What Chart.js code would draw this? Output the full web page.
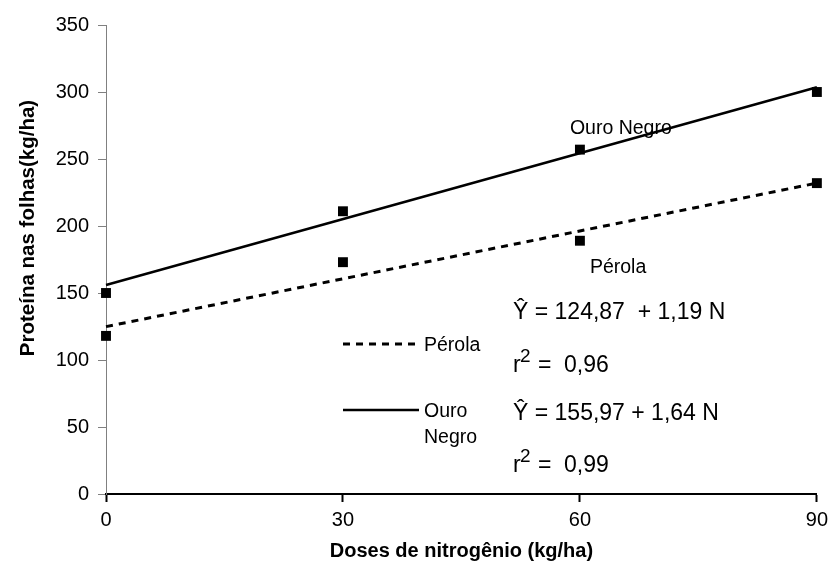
<!DOCTYPE html>
<html>
<head>
<meta charset="utf-8">
<script src="https://cdn.jsdelivr.net/npm/chart.js@4.4.1/dist/chart.umd.min.js"></script>
<style>
  body { margin: 0; background: #fff; }
</style>
</head>
<body>
<canvas id="myChart" width="834" height="574"></canvas>
<script>
// doses de N (kg/ha) e proteína nas folhas (kg/ha)
var doses = [0, 30, 60, 90];
var ouroNegro = [150, 211, 257, 300];
var perola = [118, 173, 189, 232];

var fitDoses = [0, 90];
var ouroNegroFit = [156, 303.6];
var perolaFit = [124.9, 232];

var xTicks = [0, 30, 60, 90];
var yTicks = [0, 50, 100, 150, 200, 250, 300, 350];

var FONT = "'Liberation Sans', Arial, sans-serif";

function pts(xs, ys) {
    return xs.map(function (x, i) { return { x: x, y: ys[i] }; });
}

var textos = {
    id: 'textos',
    afterDraw: function (chart) {
        var ctx = chart.ctx;
        var xs = chart.scales.x, ys = chart.scales.y;
        ctx.save();
        ctx.fillStyle = '#000';
        ctx.textBaseline = 'alphabetic';
        ctx.textAlign = 'left';

        // rótulos das séries junto aos pontos
        ctx.font = '19.5px ' + FONT;
        ctx.fillText('Ouro Negro', xs.getPixelForValue(doses[2]) - 10, ys.getPixelForValue(ouroNegro[2]) - 16);
        ctx.fillText('Pérola', xs.getPixelForValue(doses[2]) + 10, ys.getPixelForValue(perola[2]) + 32);

        // legenda
        ctx.strokeStyle = '#000';
        ctx.lineWidth = 3;
        ctx.setLineDash([7, 6]);
        ctx.beginPath(); ctx.moveTo(343, 344); ctx.lineTo(419, 344); ctx.stroke();
        ctx.setLineDash([]);
        ctx.lineWidth = 2.5;
        ctx.beginPath(); ctx.moveTo(343, 410); ctx.lineTo(419, 410); ctx.stroke();
        ctx.fillText('Pérola', 424, 351);
        ctx.fillText('Ouro', 424, 417);
        ctx.fillText('Negro', 424, 443);

        // equações
        ctx.font = '23px ' + FONT;
        ctx.fillText('Ŷ = 124,87  + 1,19 N', 513, 319);
        ctx.fillText('Ŷ = 155,97 + 1,64 N', 513, 420);
        [[372, '0,96'], [472, '0,99']].forEach(function (r) {
            ctx.font = '23px ' + FONT;
            ctx.fillText('r', 513, r[0]);
            ctx.fillText('=', 538, r[0]);
            ctx.fillText(r[1], 564, r[0]);
            ctx.font = '19px ' + FONT;
            ctx.fillText('2', 520, r[0] - 10);
        });

        // títulos dos eixos
        ctx.font = 'bold 20px ' + FONT;
        ctx.textAlign = 'center';
        ctx.textBaseline = 'middle';
        ctx.fillText('Doses de nitrogênio (kg/ha)', (chart.chartArea.left + chart.chartArea.right) / 2, 551);
        ctx.font = 'bold 20.5px ' + FONT;
        ctx.translate(28, 228);
        ctx.rotate(-Math.PI / 2);
        ctx.fillText('Proteína nas folhas(kg/ha)', 0, 0);
        ctx.restore();
    }
};

var myChart = new Chart(document.getElementById('myChart'), {
    type: 'scatter',
    data: {
        datasets: [{
            label: 'Ouro Negro',
            data: pts(doses, ouroNegro),
            pointStyle: 'rect',
            pointRadius: 7,
            backgroundColor: '#000',
            borderWidth: 0,
            clip: false
        }, {
            label: 'Pérola',
            data: pts(doses, perola),
            pointStyle: 'rect',
            pointRadius: 7,
            backgroundColor: '#000',
            borderWidth: 0,
            clip: false
        }, {
            label: 'Ouro Negro (ajuste)',
            data: pts(fitDoses, ouroNegroFit),
            showLine: true,
            pointRadius: 0,
            borderColor: '#000',
            borderWidth: 2.5,
            clip: false
        }, {
            label: 'Pérola (ajuste)',
            data: pts(fitDoses, perolaFit),
            showLine: true,
            pointRadius: 0,
            borderColor: '#000',
            borderWidth: 3,
            borderDash: [7, 6],
            clip: false
        }]
    },
    options: {
        responsive: false,
        animation: false,
        layout: { padding: { top: 25, right: 14, left: 0, bottom: 0 } },
        plugins: { legend: { display: false }, tooltip: { enabled: false } },
        scales: {
            x: {
                type: 'linear',
                min: 0,
                max: 90,
                afterBuildTicks: function (s) { s.ticks = xTicks.map(function (v) { return { value: v }; }); },
                afterFit: function (s) { s.height = 80; },
                ticks: { color: '#000', font: { family: FONT, size: 20 }, padding: 6, maxRotation: 0 },
                grid: { drawOnChartArea: false, tickLength: 8, tickColor: '#000', tickWidth: 2 },
                border: { color: '#000', width: 2 }
            },
            y: {
                min: 0,
                max: 350,
                afterBuildTicks: function (s) { s.ticks = yTicks.map(function (v) { return { value: v }; }); },
                afterFit: function (s) { s.width = 106; },
                ticks: { color: '#000', font: { family: FONT, size: 20 }, padding: 9 },
                grid: { drawOnChartArea: false, tickLength: 8, tickColor: '#808080', tickWidth: 1 },
                border: { color: '#808080', width: 1 }
            }
        }
    },
    plugins: [textos]
});
</script>
</body>
</html>
